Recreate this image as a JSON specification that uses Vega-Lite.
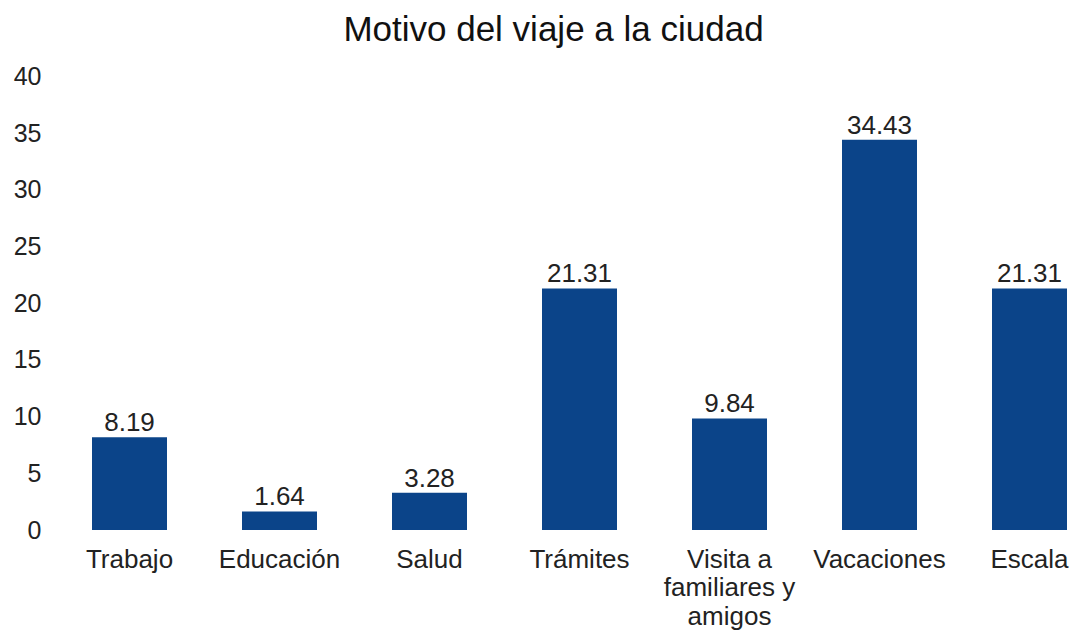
{
  "$schema": "https://vega.github.io/schema/vega-lite/v6.json",
  "autosize": "none",
  "width": 975,
  "height": 453.5,
  "padding": {"left": 92, "top": 76.5, "right": 6, "bottom": 103},
  "background": "white",
  "config": {
    "view": {"stroke": null},
    "font": "Liberation Sans"
  },
  "title": {
    "text": "Motivo del viaje a la ciudad",
    "fontSize": 35,
    "fontWeight": "normal",
    "font": "Liberation Sans",
    "color": "#111111",
    "anchor": "middle",
    "dx": -26,
    "baseline": "alphabetic",
    "offset": -11
  },
  "data": {
    "values": [
      {"motivo": "Trabajo", "pct": 8.19},
      {"motivo": "Educación", "pct": 1.64},
      {"motivo": "Salud", "pct": 3.28},
      {"motivo": "Trámites", "pct": 21.31},
      {"motivo": "Visita a familiares y amigos", "pct": 9.84},
      {"motivo": "Vacaciones", "pct": 34.43},
      {"motivo": "Escala", "pct": 21.31}
    ]
  },
  "encoding": {
    "x": {
      "field": "motivo",
      "type": "nominal",
      "sort": null,
      "scale": {"paddingInner": 0.5, "paddingOuter": 0},
      "axis": {
        "title": null,
        "domain": false,
        "ticks": false,
        "tickSize": 0,
        "labelAngle": 0,
        "labelFontSize": 26,
        "labelColor": "#222222",
        "labelPadding": 16,
        "labelLineHeight": 28.5,
        "labelBaseline": "top",
        "labelExpr": "datum.value == 'Visita a familiares y amigos' ? ['Visita a', 'familiares y', 'amigos'] : datum.value"
      }
    },
    "y": {
      "field": "pct",
      "type": "quantitative",
      "scale": {"domain": [0, 40], "nice": false},
      "axis": {
        "title": null,
        "domain": false,
        "ticks": false,
        "tickSize": 0,
        "grid": false,
        "values": [0, 5, 10, 15, 20, 25, 30, 35, 40],
        "labelFontSize": 25,
        "labelColor": "#222222",
        "labelPadding": 51
      }
    }
  },
  "layer": [
    {"mark": {"type": "bar", "color": "#0b4489"}},
    {
      "mark": {"type": "text", "baseline": "alphabetic", "dy": -6, "fontSize": 26, "color": "#222222"},
      "encoding": {"text": {"field": "pct", "type": "quantitative", "format": ".2f"}}
    }
  ]
}
